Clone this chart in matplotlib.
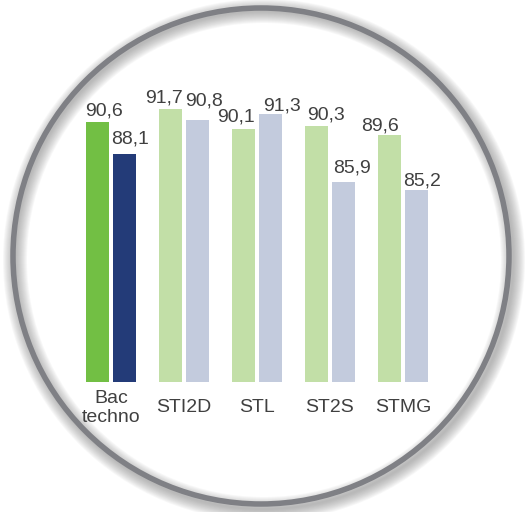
import numpy as np
import matplotlib
matplotlib.use("Agg")
import matplotlib.pyplot as plt
from matplotlib.patches import Circle

plt.rcParams['font.family'] = ['Liberation Sans', 'DejaVu Sans']

categories = ['Bac\ntechno', 'STI2D', 'STL', 'ST2S', 'STMG']
serie_a = [90.6, 91.7, 90.1, 90.3, 89.6]
serie_b = [88.1, 90.8, 91.3, 85.9, 85.2]

colors_a = ['#72BF44', '#C2DFA7', '#C2DFA7', '#C2DFA7', '#C2DFA7']
colors_b = ['#233B78', '#C3CBDD', '#C3CBDD', '#C3CBDD', '#C3CBDD']

# label nudges in pixels (dx, dy above bar top)
nudge_a = [(6, 7), (-6, 6), (-7, 7), (9, 7), (-10, 5)]
nudge_b = [(6, 10), (7, 14), (11, 3), (8, 9), (6, 5)]

W, H = 528, 512
fig = plt.figure(figsize=(W / 100, H / 100), dpi=100)
fig.patch.set_facecolor('white')

# background: ring with soft shadow
bg = fig.add_axes([0, 0, 1, 1])
bg.set_xlim(0, W)
bg.set_ylim(H, 0)
bg.set_axis_off()
for i in range(12):
    bg.add_patch(Circle((264, 260), 249, fill=False, ec='#808080',
                        lw=(24 - 2 * i) * 0.72, alpha=0.06))
bg.add_patch(Circle((261, 256), 248, fill=False, ec='#7F8085', lw=5.5 * 0.72))

# bar chart
ppu = 12.6
y0, y1 = 70, 92
bottom_px = 382
height_px = (y1 - y0) * ppu
ax = fig.add_axes([38 / W, (H - bottom_px) / H, 438 / W, height_px / H])
ax.set_xlim(-1, 5)
ax.set_ylim(y0, y1)
ax.patch.set_alpha(0)
ax.set_axis_off()

x = np.arange(len(categories))
w = 23 / 73
off = 13.5 / 73
ax.bar(x - off, np.array(serie_a) - y0, w, bottom=y0, color=colors_a)
ax.bar(x + off, np.array(serie_b) - y0, w, bottom=y0, color=colors_b)

for i in range(len(categories)):
    for xv, val, (dx, dy) in ((x[i] - off, serie_a[i], nudge_a[i]),
                              (x[i] + off, serie_b[i], nudge_b[i])):
        ax.annotate(f'{val:.1f}'.replace('.', ','), (xv, val),
                    xytext=(dx * 0.72, dy * 0.72), textcoords='offset points',
                    ha='center', va='baseline', fontsize=14, color='#404040')
    ax.text(x[i], -26 / height_px, categories[i], transform=ax.get_xaxis_transform(),
            ha='center', va='center', fontsize=14, color='#404040',
            linespacing=1.1)

fig.savefig('out.png', dpi=100)
